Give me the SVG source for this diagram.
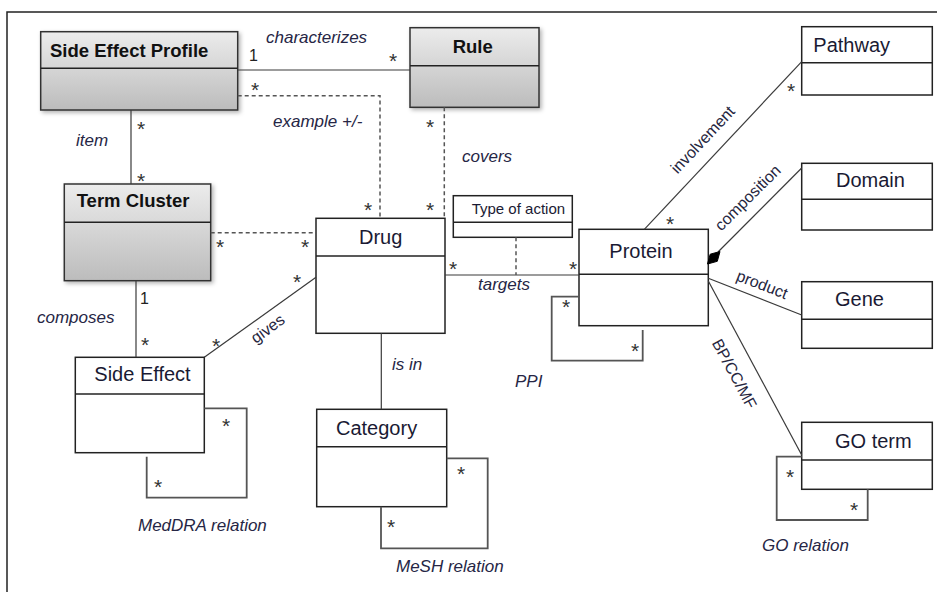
<svg xmlns="http://www.w3.org/2000/svg" width="937" height="592" viewBox="0 0 937 592">
<style>
.box{fill:#fff;stroke:#222;stroke-width:1.5}
.gbox{fill:url(#g);stroke:#333;stroke-width:1.5;filter:url(#sh)}
.div{stroke:#222;stroke-width:1.5}
.ln{fill:none;stroke:#3a3a3a;stroke-width:1.2}
.lp{fill:none;stroke:#555;stroke-width:1.8}
.dash{fill:none;stroke:#555;stroke-width:1.5;stroke-dasharray:4,3}
.t{font-family:"Liberation Sans",Arial,sans-serif;font-size:20px;fill:#1a1a33}
.tb{font-family:"Liberation Sans",Arial,sans-serif;font-size:18.5px;font-weight:bold;fill:#111}
.lb{font-family:"Liberation Sans",Arial,sans-serif;font-size:17px;font-style:italic;fill:#262645}
.rl{font-family:"Liberation Sans",Arial,sans-serif;font-size:16px;fill:#262640}
.m{font-family:"Liberation Sans",Arial,sans-serif;font-size:21px;fill:#333;text-anchor:middle}
.one{font-family:"Liberation Sans",Arial,sans-serif;font-size:16px;fill:#222}
</style>
<defs>
<linearGradient id="g" x1="0" y1="0" x2="0" y2="1">
<stop offset="0" stop-color="#ececec"/>
<stop offset="1" stop-color="#bcbcbc"/>
</linearGradient>
<filter id="sh" x="-10%" y="-10%" width="130%" height="130%">
<feDropShadow dx="2" dy="2" stdDeviation="2" flood-color="#000" flood-opacity="0.3"/>
</filter>
</defs>
<rect width="937" height="592" fill="#fff"/>
<path d="M7 592 V12 H937" fill="none" stroke="#222" stroke-width="1.5"/>

<g id="side-effect-profile">
<rect class="gbox" x="40.7" y="31.7" width="197" height="78.3"/>
<line class="div" x1="40.7" y1="68.3" x2="237.7" y2="68.3"/>
<text class="tb" x="50" y="57">Side Effect Profile</text>
</g>
<g id="rule">
<rect class="gbox" x="410" y="27.7" width="129" height="79.6"/>
<line class="div" x1="410" y1="65.7" x2="539" y2="65.7"/>
<text class="tb" x="452.7" y="53">Rule</text>
</g>
<g id="term-cluster">
<rect class="gbox" x="64.3" y="184" width="146.4" height="96.7"/>
<line class="div" x1="64.3" y1="222.3" x2="210.7" y2="222.3"/>
<text class="tb" x="76.7" y="207.3">Term Cluster</text>
</g>
<g id="drug">
<rect class="box" x="316" y="218.3" width="129" height="115"/>
<line class="div" x1="316" y1="256" x2="445" y2="256"/>
<text class="t" x="359" y="244">Drug</text>
</g>
<g id="type-of-action">
<rect class="box" x="453.3" y="195.7" width="119" height="41.6"/>
<line class="div" x1="453.3" y1="222.3" x2="572.3" y2="222.3"/>
<text class="t" x="471.7" y="214.3" style="font-size:15px">Type of action</text>
</g>
<g id="protein">
<rect class="box" x="579" y="229.3" width="129.3" height="96.4"/>
<line class="div" x1="579" y1="274.3" x2="708.3" y2="274.3"/>
<text class="t" x="609.3" y="258.3">Protein</text>
</g>
<g id="side-effect">
<rect class="box" x="75.3" y="357.3" width="129" height="95.4"/>
<line class="div" x1="75.3" y1="394" x2="204.3" y2="394"/>
<text class="t" x="94.3" y="380.7">Side Effect</text>
</g>
<g id="category">
<rect class="box" x="316.7" y="409.3" width="130" height="97.4"/>
<line class="div" x1="316.7" y1="446.7" x2="446.7" y2="446.7"/>
<text class="t" x="336" y="435">Category</text>
</g>
<g id="pathway">
<rect class="box" x="801.7" y="26.7" width="130.6" height="68.3"/>
<line class="div" x1="801.7" y1="62.7" x2="932.3" y2="62.7"/>
<text class="t" x="813.3" y="51.7">Pathway</text>
</g>
<g id="domain">
<rect class="box" x="801.7" y="163.3" width="130.6" height="66.7"/>
<line class="div" x1="801.7" y1="199.3" x2="932.3" y2="199.3"/>
<text class="t" x="836" y="186.7">Domain</text>
</g>
<g id="gene">
<rect class="box" x="801.7" y="281.7" width="130.6" height="66.6"/>
<line class="div" x1="801.7" y1="319.3" x2="932.3" y2="319.3"/>
<text class="t" x="835" y="306">Gene</text>
</g>
<g id="go-term">
<rect class="box" x="801.7" y="422.3" width="130.6" height="67"/>
<line class="div" x1="801.7" y1="460" x2="932.3" y2="460"/>
<text class="t" x="835" y="448.3">GO term</text>
</g>

<g id="connectors">
<line class="ln" x1="237.7" y1="70" x2="410" y2="70"/>
<path class="dash" d="M237.7 95.7 H380 V218.3"/>
<line class="dash" x1="444.3" y1="107.3" x2="444.3" y2="218.3"/>
<line class="ln" x1="131" y1="110" x2="131" y2="184"/>
<line class="dash" x1="210.7" y1="232.7" x2="316" y2="232.7"/>
<line class="ln" x1="136" y1="280.7" x2="136" y2="357.3"/>
<line class="ln" x1="204.3" y1="357.3" x2="316" y2="277.3"/>
<line class="ln" x1="445" y1="275" x2="579" y2="275"/>
<line class="dash" x1="516" y1="237.3" x2="516" y2="275"/>
<line class="ln" x1="381.3" y1="333.3" x2="381.3" y2="409.3"/>
<path class="lp" d="M579 296.7 H551.7 V360.7 H642.7 V330"/>
<path class="lp" d="M204.3 408.3 H246.7 V497.7 H146.7 V456.7"/>
<path class="lp" d="M446.7 458.3 H487.7 V548.3 H381 V506.7"/>
<path class="lp" d="M801.7 456.7 H776.7 V520 H867.7 V489.3"/>
<line class="ln" x1="801.7" y1="61.7" x2="644.3" y2="229.3"/>
<line class="ln" x1="801.7" y1="168" x2="718" y2="252"/>
<polygon points="707.5,264 710.2,254.2 720,251.5 717.3,261.3" fill="#000" stroke="#000" stroke-width="1"/>
<line class="ln" x1="708.3" y1="278.3" x2="801.7" y2="315"/>
<line class="ln" x1="708.3" y1="281" x2="801.7" y2="455"/>

<text class="lb" x="266" y="43">characterizes</text>
<text class="one" x="249" y="61">1</text>
<text class="m" x="393" y="68">*</text>
<text class="m" x="255" y="97">*</text>
<text class="lb" x="273" y="127">example +/-</text>
<text class="m" x="368" y="217">*</text>
<text class="m" x="430" y="134">*</text>
<text class="lb" x="462" y="162">covers</text>
<text class="m" x="430" y="217">*</text>
<text class="m" x="141" y="136">*</text>
<text class="m" x="141" y="188">*</text>
<text class="lb" x="76" y="146">item</text>
<text class="m" x="220" y="254">*</text>
<text class="m" x="305" y="254">*</text>
<text class="one" x="140" y="304">1</text>
<text class="m" x="145" y="352">*</text>
<text class="lb" x="37" y="323">composes</text>
<text class="m" x="216" y="353">*</text>
<text class="m" x="297" y="289">*</text>
<text class="rl" transform="translate(268,329) rotate(-35.8)" x="0" y="5" text-anchor="middle">gives</text>
<text class="m" x="453" y="276">*</text>
<text class="m" x="573" y="276">*</text>
<text class="lb" x="478" y="290">targets</text>
<text class="m" x="566" y="314">*</text>
<text class="m" x="635" y="358">*</text>
<text class="lb" x="515" y="387">PPI</text>
<text class="lb" x="392" y="370">is in</text>
<text class="m" x="226" y="433">*</text>
<text class="m" x="158" y="494">*</text>
<text class="lb" x="138" y="531">MedDRA relation</text>
<text class="m" x="461" y="481">*</text>
<text class="m" x="391" y="534">*</text>
<text class="lb" x="396" y="572">MeSH relation</text>
<text class="m" x="791" y="98">*</text>
<text class="m" x="670" y="231">*</text>
<text class="rl" transform="translate(703,140) rotate(-46.8)" x="0" y="5" text-anchor="middle">involvement</text>
<text class="rl" transform="translate(748,198) rotate(-45)" x="0" y="5" text-anchor="middle">composition</text>
<text class="rl" transform="translate(762,285) rotate(21.4)" x="0" y="5" text-anchor="middle">product</text>
<text class="rl" transform="translate(734,374) rotate(61.8)" x="0" y="5" text-anchor="middle">BP/CC/MF</text>
<text class="m" x="790" y="484">*</text>
<text class="m" x="854" y="517">*</text>
<text class="lb" x="762" y="551">GO relation</text>
</g>
</svg>
